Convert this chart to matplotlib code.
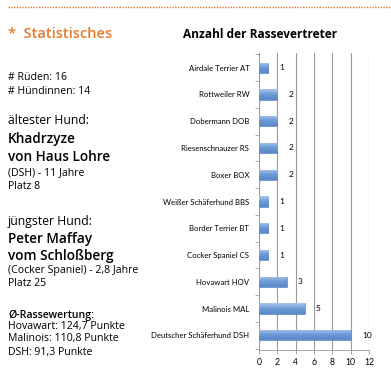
import matplotlib
matplotlib.use('Agg')
import matplotlib.pyplot as plt
import numpy as np

rassen = ['Airdale Terrier AT', 'Rottweiler RW', 'Dobermann DOB', 'Riesenschnauzer RS',
          'Boxer BOX', 'Weißer Schäferhund BBS', 'Border Terrier BT', 'Cocker Spaniel CS',
          'Hovawart HOV', 'Malinois MAL', 'Deutscher Schäferhund DSH']
anzahl = [1, 2, 2, 2, 2, 1, 1, 1, 3, 5, 10]
x_ticks = [0, 2, 4, 6, 8, 10, 12]

orange = '#e8782a'

fig = plt.figure(figsize=(3.91, 3.75), dpi=100)

# gepunktete Linie oben
fig.add_artist(plt.Line2D([8 / 391, 1.0], [1 - 7 / 375] * 2, color=orange,
                          lw=1.0, ls=(0, (1, 1)), transform=fig.transFigure))

fig.text(8 / 391, 1 - 34 / 375, '*  Statistisches', color=orange, fontsize=10.5,
         family='Open Sans', weight='semibold', va='center', ha='left')
fig.text(183 / 391, 1 - 35 / 375, 'Anzahl der Rassevertreter', fontsize=8.6,
         family='Open Sans', weight='bold', va='center', ha='left')

# linker Textblock: (text, y-pixel, groesse, fett)
zeilen = [
    ('# Rüden: 16', 78, 7.6, False),
    ('# Hündinnen: 14', 92, 7.6, False),
    ('ältester Hund:', 121, 8.8, False),
    ('Khadrzyze', 139, 9.8, True),
    ('von Haus Lohre', 157, 9.8, True),
    ('(DSH) - 11 Jahre', 173, 7.6, False),
    ('Platz 8', 187, 7.6, False),
    ('jüngster Hund:', 222, 8.8, False),
    ('Peter Maffay', 239, 9.8, True),
    ('vom Schloßberg', 256, 9.8, True),
    ('(Cocker Spaniel) - 2,8 Jahre', 270, 7.6, False),
    ('Platz 25', 284, 7.6, False),
    ('Ø-Rassewertung:', 315, 7.6, True),
    ('Hovawart: 124,7 Punkte', 327, 7.6, False),
    ('Malinois: 110,8 Punkte', 339, 7.6, False),
    ('DSH: 91,3 Punkte', 352, 7.6, False),
]
for txt, ypx, fs, fett in zeilen:
    fig.text(8 / 391, 1 - ypx / 375, txt, fontsize=fs, family='Open Sans',
             weight='semibold' if fett else 'medium', va='center', ha='left',
             color='black')

ax = fig.add_axes([259 / 391, 25 / 375, 110 / 391, 297 / 375])
y = np.arange(len(rassen))[::-1]
bars = ax.barh(y, anzahl, height=0.38, color='#7aa5db', edgecolor='#5a89c6', lw=0.5, zorder=3)

# leichter Verlauf in den Balken
grad = np.linspace(0, 1, 50).reshape(-1, 1)
cmap = matplotlib.colors.LinearSegmentedColormap.from_list('b', ['#a9c6ec', '#6b9ad6', '#5a88c8'])
for b in bars:
    x0, y0 = b.get_x(), b.get_y()
    im = ax.imshow(grad, extent=[x0, x0 + b.get_width(), y0, y0 + b.get_height()],
                   aspect='auto', cmap=cmap, origin='upper', zorder=3.5)
    im.set_clip_path(b)

for yi, v in zip(y, anzahl):
    ax.annotate(str(v), (v, yi), xytext=(8, 0), textcoords='offset points',
                va='center', ha='left', fontsize=6, family='Lato')

ax.set_xlim(0, 12)
ax.set_ylim(-0.55, len(rassen) - 0.45)
ax.set_xticks(x_ticks)
ax.set_xticklabels([str(t) for t in x_ticks], fontsize=6.2, family='Lato')
ax.set_yticks(y)
ax.set_yticklabels(rassen, fontsize=5.6, family='Lato')
ax.set_yticks(np.arange(-0.5, len(rassen), 1), minor=True)
ax.tick_params(axis='y', which='major', length=0, pad=7)
ax.tick_params(axis='y', which='minor', length=3, color='#999999', width=0.6)
ax.tick_params(axis='x', length=3, color='#999999', width=0.6, pad=3)
ax.grid(axis='x', color='#9a9a9a', lw=0.8, zorder=0)
for s in ['top', 'right']:
    ax.spines[s].set_visible(False)
for s in ['left', 'bottom']:
    ax.spines[s].set_color('#999999')
    ax.spines[s].set_linewidth(0.6)

plt.savefig('out.png', dpi=100)
